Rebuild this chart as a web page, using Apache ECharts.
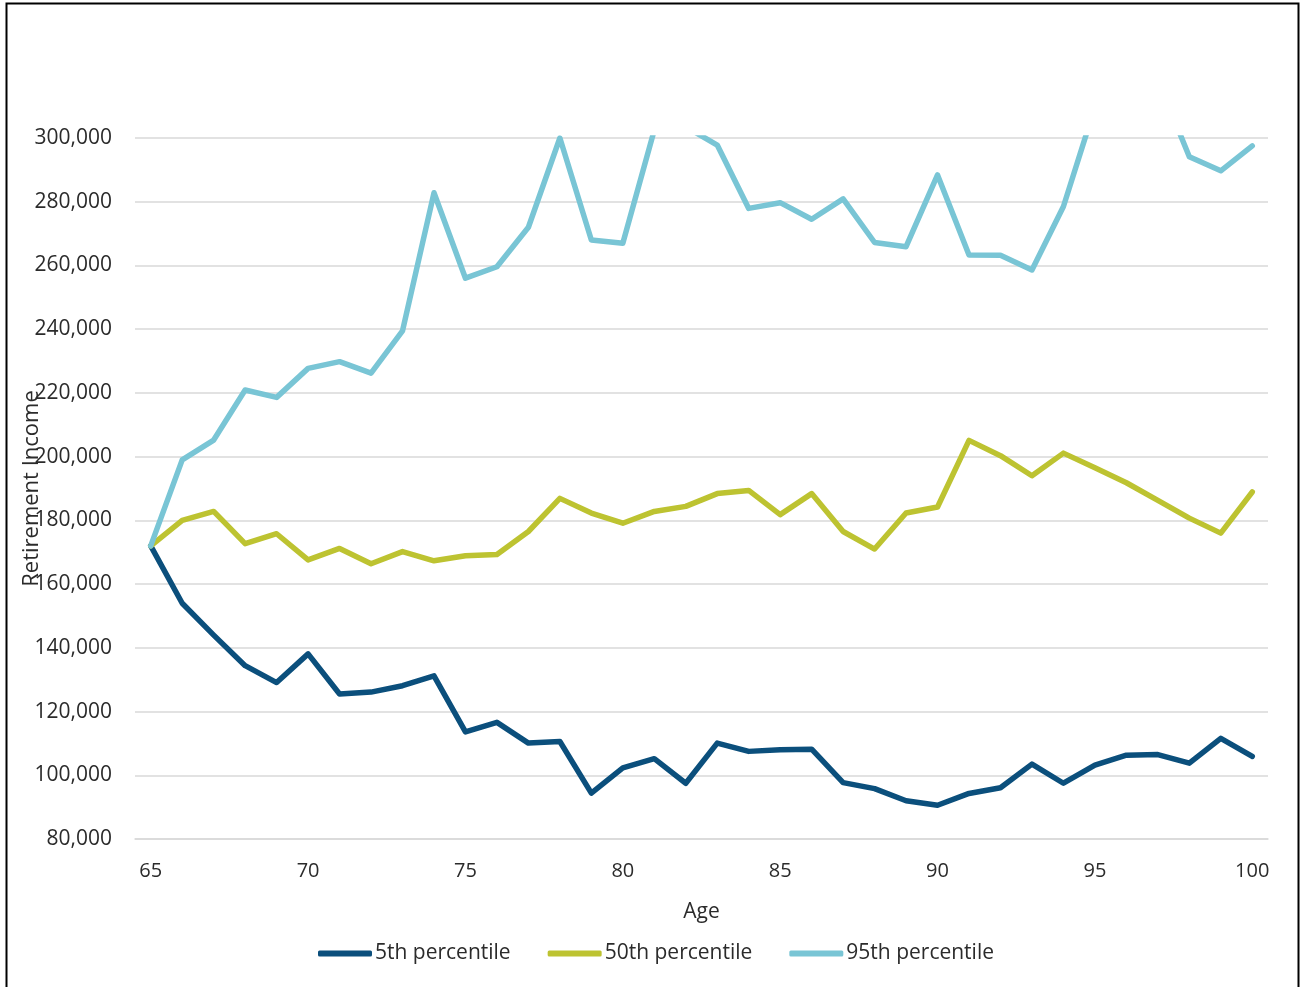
<!DOCTYPE html>
<html>
<head>
<meta charset="utf-8">
<script src="https://cdn.jsdelivr.net/npm/echarts@6/dist/echarts.min.js"></script>
<style>
html,body{margin:0;padding:0;background:#fff;}
#chart{width:1302px;height:987px;}
</style>
</head>
<body>
<div id="chart"></div>
<script>
const ages = ['65','66','67','68','69','70','71','72','73','74','75','76','77','78','79','80','81','82',
  '83','84','85','86','87','88','89','90','91','92','93','94','95','96','97','98','99','100'];
const p5 = [172000,154000,144000,134400,129100,138100,125500,126100,128100,131200,113600,116600,
  110100,110600,94400,102300,105200,97500,110100,107500,108000,108200,97700,95800,92000,90600,
  94300,96100,103500,97500,103200,106300,106500,103800,111600,105900];
const p50 = [172000,180000,182800,172700,175800,167600,171200,166400,170200,167300,168900,169300,
  176500,186900,182300,179100,182800,184400,188400,189400,181800,188400,176500,171000,182300,184200,
  205100,200300,194000,201100,196500,191800,186300,180700,176000,188900];
const p95 = [172000,199000,205200,220900,218600,227700,229800,226200,239500,282800,256000,259600,
  272000,300000,268000,267000,302500,303500,297800,277900,279700,274500,280900,267200,265900,288400,
  263300,263200,258600,278500,309700,315000,318400,294100,289700,297500];
const seriesNames = ['5th percentile','50th percentile','95th percentile'];
const seriesColors = ['#0B4F7C','#BDC331','#79C5D5'];
const yMin = 80000, yMax = 300000, yStep = 20000;

const font = '"Open Sans", "Noto Sans", sans-serif';
const textColor = '#2b2b2b';
const chart = echarts.init(document.getElementById('chart'), null, {renderer:'canvas'});
const dataSets = [p5, p50, p95];
chart.setOption({
  animation:false,
  backgroundColor:'#ffffff',
  grid:{left:135,right:34,top:138,bottom:148,containLabel:false,outerBoundsMode:'none'},
  graphic:[{
    type:'rect', silent:true, z:-1,
    shape:{x:6.5,y:3.5,width:1292,height:1000},
    style:{fill:'none',stroke:'#000',lineWidth:2}
  }],
  legend:{
    left:313, top:938,
    itemWidth:54, itemHeight:6, itemGap:37,
    icon:'roundRect',
    textStyle:{fontFamily:font,fontSize:21,color:textColor,padding:[0,0,0,-2]},
    data:seriesNames
  },
  xAxis:{
    type:'category', data:ages, boundaryGap:true,
    name:'Age', nameLocation:'middle', nameGap:63, nameMoveOverlap:false,
    nameTextStyle:{fontFamily:font,fontSize:21,color:textColor},
    axisLine:{show:true,lineStyle:{color:'#d9d9d9',width:1.5}},
    axisTick:{show:false},
    axisLabel:{interval:4,margin:22,fontFamily:font,fontSize:20,color:textColor},
    splitLine:{show:false}
  },
  yAxis:{
    type:'value', min:yMin, max:yMax, interval:yStep,
    name:'Retirement Income', nameLocation:'middle', nameGap:92, nameMoveOverlap:false,
    nameTextStyle:{fontFamily:font,fontSize:22,color:textColor},
    axisLine:{show:false}, axisTick:{show:false},
    axisLabel:{margin:23,fontFamily:font,fontSize:21,color:textColor,
      formatter:v=>v.toLocaleString('en-US')},
    splitLine:{show:true,lineStyle:{color:'#d9d9d9',width:1.5}}
  },
  series: dataSets.map((d,i)=>({
    name:seriesNames[i], type:'line', data:d,
    showSymbol:false, symbol:'none', clip:true,
    lineStyle:{width:5.5,color:seriesColors[i],cap:'round',join:'round'},
    itemStyle:{color:seriesColors[i]},
    emphasis:{disabled:true}
  }))
});
</script>
</body>
</html>
